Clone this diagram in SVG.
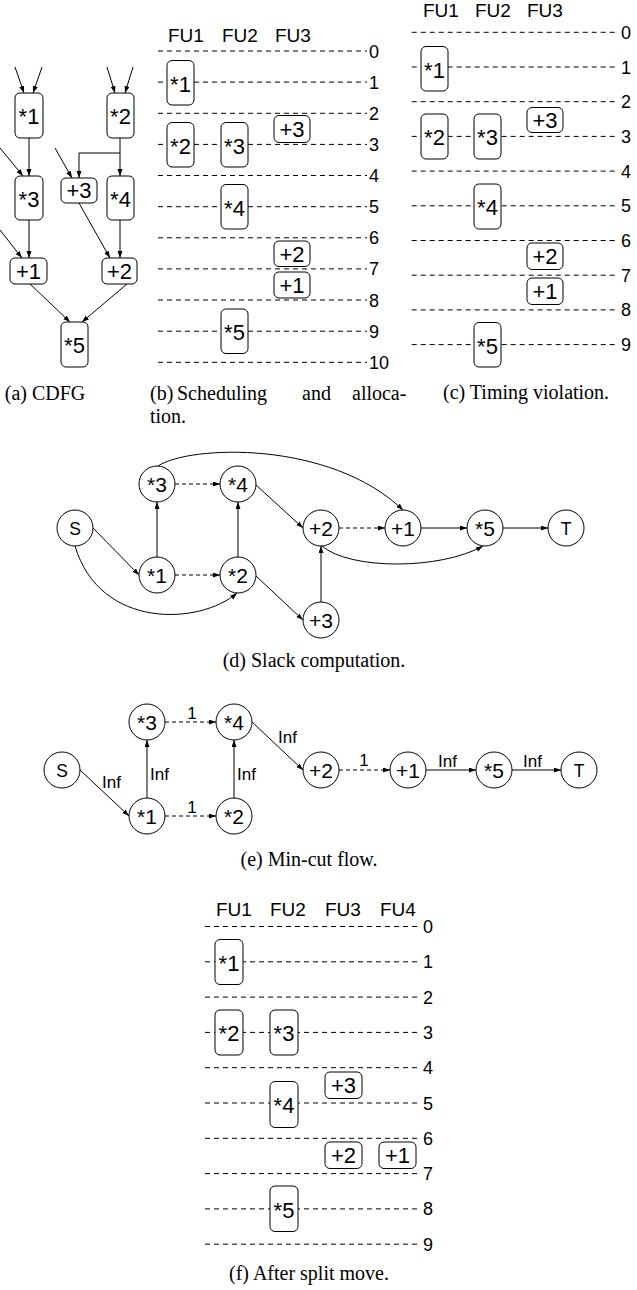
<svg xmlns="http://www.w3.org/2000/svg" width="637" height="1290" viewBox="0 0 637 1290">
<style>
  .box{fill:#fff;stroke:#000;stroke-width:1}
  .nd{fill:#fff;stroke:#000;stroke-width:1}
  .lbl{font-family:"Liberation Sans",Arial,sans-serif;font-size:22px;text-anchor:middle;fill:#000}
  .clbl{font-family:"Liberation Sans",Arial,sans-serif;font-size:21px;text-anchor:middle;fill:#000}
  .st{font-family:"Liberation Sans",Arial,sans-serif;font-size:17.5px;text-anchor:middle;fill:#000}
  .hdr{font-family:"Liberation Sans",Arial,sans-serif;font-size:19px;fill:#000}
  .num{font-family:"Liberation Sans",Arial,sans-serif;font-size:18px;fill:#000}
  .el{font-family:"Liberation Sans",Arial,sans-serif;font-size:17px;fill:#000}
  .cap{font-family:"Liberation Serif","Times New Roman",serif;font-size:20px;fill:#000}
  .grid{stroke:#000;stroke-width:1;stroke-dasharray:5 4;fill:none}
  .e{fill:none;stroke:#000;stroke-width:1;marker-end:url(#ah)}
  .d{stroke-dasharray:4 3}
</style>
<defs>
  <marker id="ah" markerUnits="userSpaceOnUse" markerWidth="8" markerHeight="6" refX="7" refY="2.5" orient="auto">
    <path d="M0,0 L7,2.5 L0,5 z" fill="#000"/>
  </marker>
</defs>

<!-- (a) CDFG -->
<g id="cdfg-edges">
  <path class="e" d="M15,67 L24,93"/>
  <path class="e" d="M42,67 L33,93"/>
  <path class="e" d="M107,67 L115,93"/>
  <path class="e" d="M133,67 L125,93"/>
  <path class="e" d="M29,138 V176"/>
  <path class="e" d="M0,148 L23,176"/>
  <path class="e" d="M120,138 V176"/>
  <path class="e" d="M120,153 H79 V178"/>
  <path class="e" d="M55,148 L72,178"/>
  <path class="e" d="M29,220 V258"/>
  <path class="e" d="M0,230 L22,258"/>
  <path class="e" d="M79,203 L110,258"/>
  <path class="e" d="M120,220 V258"/>
  <path class="e" d="M30,284 L70,322"/>
  <path class="e" d="M127,284 L82,322"/>
</g>
<g id="a-m1"><rect class="box" x="15" y="93" width="28" height="45" rx="5"/><text class="lbl" x="29" y="124">*1</text></g>
<g id="a-m2"><rect class="box" x="107" y="93" width="27" height="45" rx="5"/><text class="lbl" x="120.5" y="124">*2</text></g>
<g id="a-m3"><rect class="box" x="15" y="176" width="28" height="44" rx="5"/><text class="lbl" x="29" y="206.5">*3</text></g>
<g id="a-a3"><rect class="box" x="61" y="178" width="36" height="25" rx="5"/><text class="lbl" x="79" y="198">+3</text></g>
<g id="a-m4"><rect class="box" x="107" y="176" width="27" height="44" rx="5"/><text class="lbl" x="120.5" y="206.5">*4</text></g>
<g id="a-a1"><rect class="box" x="10" y="258" width="37" height="26" rx="5"/><text class="lbl" x="28.5" y="278.5">+1</text></g>
<g id="a-a2"><rect class="box" x="102" y="258" width="35" height="26" rx="5"/><text class="lbl" x="119.5" y="278.5">+2</text></g>
<g id="a-m5"><rect class="box" x="61" y="322" width="27" height="45" rx="5"/><text class="lbl" x="74.5" y="353">*5</text></g>
<text class="cap" x="45" y="400" text-anchor="middle">(a) CDFG</text>

<!-- (b) Scheduling and allocation -->
<g id="b-grid">
  <text class="hdr" x="168" y="42">FU1</text>
  <text class="hdr" x="222" y="42">FU2</text>
  <text class="hdr" x="275" y="42">FU3</text>
  <path class="grid" d="M158,51H367 M158,82.1H367 M158,113.3H367 M158,144.4H367 M158,175.5H367 M158,206.7H367 M158,237.8H367 M158,268.9H367 M158,300H367 M158,331.2H367 M158,362.3H367"/>
  <text class="num" x="369" y="57.5">0</text>
  <text class="num" x="369" y="88.6">1</text>
  <text class="num" x="369" y="119.8">2</text>
  <text class="num" x="369" y="150.9">3</text>
  <text class="num" x="369" y="182">4</text>
  <text class="num" x="369" y="213.2">5</text>
  <text class="num" x="369" y="244.3">6</text>
  <text class="num" x="369" y="275.4">7</text>
  <text class="num" x="369" y="306.5">8</text>
  <text class="num" x="369" y="337.7">9</text>
  <text class="num" x="369" y="368.8">10</text>
</g>
<g id="b-m1"><rect class="box" x="167" y="60.5" width="27" height="44.5" rx="5"/><text class="lbl" x="180.5" y="91.5">*1</text></g>
<g id="b-m2"><rect class="box" x="167" y="122.5" width="27" height="44.5" rx="5"/><text class="lbl" x="180.5" y="153.5">*2</text></g>
<g id="b-m3"><rect class="box" x="221" y="122.5" width="27" height="44.5" rx="5"/><text class="lbl" x="234.5" y="153.5">*3</text></g>
<g id="b-a3"><rect class="box" x="274" y="115.5" width="36" height="27" rx="5"/><text class="lbl" x="292" y="136.5">+3</text></g>
<g id="b-m4"><rect class="box" x="221" y="184.5" width="27" height="44.5" rx="5"/><text class="lbl" x="234.5" y="215.5">*4</text></g>
<g id="b-a2"><rect class="box" x="274" y="241" width="36" height="25.5" rx="5"/><text class="lbl" x="292" y="261.5">+2</text></g>
<g id="b-a1"><rect class="box" x="274" y="272" width="36" height="26" rx="5"/><text class="lbl" x="292" y="292.5">+1</text></g>
<g id="b-m5"><rect class="box" x="221" y="309" width="27" height="44.5" rx="5"/><text class="lbl" x="234.5" y="340">*5</text></g>
<text class="cap" x="150" y="400">(b)</text>
<text class="cap" x="177" y="400">Scheduling</text>
<text class="cap" x="302" y="400">and</text>
<text class="cap" x="352" y="400">alloca-</text>
<text class="cap" x="150" y="423">tion.</text>

<!-- (c) Timing violation -->
<g id="c-grid">
  <text class="hdr" x="423" y="17">FU1</text>
  <text class="hdr" x="475" y="17">FU2</text>
  <text class="hdr" x="527" y="17">FU3</text>
  <path class="grid" d="M411.7,32.3H618 M411.7,67H618 M411.7,101.7H618 M411.7,136.4H618 M411.7,171.1H618 M411.7,205.8H618 M411.7,240.5H618 M411.7,275.2H618 M411.7,309.9H618 M411.7,344.6H618"/>
  <text class="num" x="621" y="38.8">0</text>
  <text class="num" x="621" y="73.5">1</text>
  <text class="num" x="621" y="108.2">2</text>
  <text class="num" x="621" y="142.9">3</text>
  <text class="num" x="621" y="177.6">4</text>
  <text class="num" x="621" y="212.3">5</text>
  <text class="num" x="621" y="247">6</text>
  <text class="num" x="621" y="281.7">7</text>
  <text class="num" x="621" y="316.4">8</text>
  <text class="num" x="621" y="351.1">9</text>
</g>
<g id="c-m1"><rect class="box" x="421" y="46.5" width="27" height="44.5" rx="5"/><text class="lbl" x="434.5" y="77.5">*1</text></g>
<g id="c-m2"><rect class="box" x="421" y="114" width="27" height="45" rx="5"/><text class="lbl" x="434.5" y="145">*2</text></g>
<g id="c-m3"><rect class="box" x="474" y="114" width="27" height="45" rx="5"/><text class="lbl" x="487.5" y="145">*3</text></g>
<g id="c-a3"><rect class="box" x="527" y="107.5" width="36" height="25" rx="5"/><text class="lbl" x="545" y="127.5">+3</text></g>
<g id="c-m4"><rect class="box" x="474" y="184" width="27" height="45" rx="5"/><text class="lbl" x="487.5" y="215">*4</text></g>
<g id="c-a2"><rect class="box" x="527" y="243" width="36" height="26.5" rx="5"/><text class="lbl" x="545" y="264">+2</text></g>
<g id="c-a1"><rect class="box" x="527" y="278" width="36" height="26.5" rx="5"/><text class="lbl" x="545" y="299">+1</text></g>
<g id="c-m5"><rect class="box" x="474" y="322.5" width="27" height="44.5" rx="5"/><text class="lbl" x="487.5" y="353.5">*5</text></g>
<text class="cap" x="443" y="399">(c) Timing violation.</text>

<!-- (d) Slack computation -->
<g id="d-edges">
  <path class="e" d="M93,528 L139,575"/>
  <path class="e" d="M75,546 C100,630 200,625 237,593"/>
  <path class="e" d="M157,557 V502"/>
  <path class="e d" d="M175,484 H220"/>
  <path class="e d" d="M175,575 H220"/>
  <path class="e" d="M238,557 V502"/>
  <path class="e" d="M256,485 L303,528"/>
  <path class="e" d="M256,576 L303,620"/>
  <path class="e" d="M321,602 V546"/>
  <path class="e d" d="M339,528 H385"/>
  <path class="e" d="M421,528 H467"/>
  <path class="e" d="M503,528 H548"/>
  <path class="e" d="M322,546 C350,570 440,570 483,546"/>
  <path class="e" d="M158,466 C190,445 330,440 403,510"/>
</g>
<g id="d-S"><circle class="nd" cx="75" cy="528" r="18"/><text class="st" x="75" y="534.5">S</text></g>
<g id="d-m3"><circle class="nd" cx="157" cy="484" r="18"/><text class="clbl" x="157" y="491.5">*3</text></g>
<g id="d-m4"><circle class="nd" cx="238" cy="484" r="18"/><text class="clbl" x="238" y="491.5">*4</text></g>
<g id="d-m1"><circle class="nd" cx="157" cy="575" r="18"/><text class="clbl" x="157" y="582.5">*1</text></g>
<g id="d-m2"><circle class="nd" cx="238" cy="575" r="18"/><text class="clbl" x="238" y="582.5">*2</text></g>
<g id="d-a2"><circle class="nd" cx="321" cy="528" r="18"/><text class="clbl" x="321" y="535.5">+2</text></g>
<g id="d-a3"><circle class="nd" cx="321" cy="620" r="18"/><text class="clbl" x="321" y="627.5">+3</text></g>
<g id="d-a1"><circle class="nd" cx="403" cy="528" r="18"/><text class="clbl" x="403" y="535.5">+1</text></g>
<g id="d-m5"><circle class="nd" cx="485" cy="528" r="18"/><text class="clbl" x="485" y="535.5">*5</text></g>
<g id="d-T"><circle class="nd" cx="566" cy="528" r="18"/><text class="st" x="566" y="534.5">T</text></g>
<text class="cap" x="314" y="667" text-anchor="middle">(d) Slack computation.</text>

<!-- (e) Min-cut flow -->
<g id="e-edges">
  <path class="e" d="M80,770 L129,816"/>
  <path class="e" d="M147,798 V740"/>
  <path class="e" d="M234,798 V740"/>
  <path class="e d" d="M165,816 H216"/>
  <path class="e d" d="M165,722 H216"/>
  <path class="e" d="M252,722 L303,770"/>
  <path class="e d" d="M339,770 H390"/>
  <path class="e" d="M426,770 H476"/>
  <path class="e" d="M512,770 H561"/>
  <text class="el" x="102" y="788">Inf</text>
  <text class="el" x="150" y="780">Inf</text>
  <text class="el" x="237" y="780">Inf</text>
  <text class="el" x="192" y="813" text-anchor="middle">1</text>
  <text class="el" x="192" y="719" text-anchor="middle">1</text>
  <text class="el" x="278" y="743">Inf</text>
  <text class="el" x="364" y="766" text-anchor="middle">1</text>
  <text class="el" x="438" y="767">Inf</text>
  <text class="el" x="523" y="767">Inf</text>
</g>
<g id="e-S"><circle class="nd" cx="62" cy="770" r="18"/><text class="st" x="62" y="776.5">S</text></g>
<g id="e-m3"><circle class="nd" cx="147" cy="722" r="18"/><text class="clbl" x="147" y="729.5">*3</text></g>
<g id="e-m4"><circle class="nd" cx="234" cy="722" r="18"/><text class="clbl" x="234" y="729.5">*4</text></g>
<g id="e-m1"><circle class="nd" cx="147" cy="816" r="18"/><text class="clbl" x="147" y="823.5">*1</text></g>
<g id="e-m2"><circle class="nd" cx="234" cy="816" r="18"/><text class="clbl" x="234" y="823.5">*2</text></g>
<g id="e-a2"><circle class="nd" cx="321" cy="770" r="18"/><text class="clbl" x="321" y="777.5">+2</text></g>
<g id="e-a1"><circle class="nd" cx="408" cy="770" r="18"/><text class="clbl" x="408" y="777.5">+1</text></g>
<g id="e-m5"><circle class="nd" cx="494" cy="770" r="18"/><text class="clbl" x="494" y="777.5">*5</text></g>
<g id="e-T"><circle class="nd" cx="579" cy="770" r="18"/><text class="st" x="579" y="776.5">T</text></g>
<text class="cap" x="309" y="866" text-anchor="middle">(e) Min-cut flow.</text>

<!-- (f) After split move -->
<g id="f-grid">
  <text class="hdr" x="216" y="916">FU1</text>
  <text class="hdr" x="270" y="916">FU2</text>
  <text class="hdr" x="325" y="916">FU3</text>
  <text class="hdr" x="380" y="916">FU4</text>
  <path class="grid" d="M205,926.5H420 M205,961.8H420 M205,997.1H420 M205,1032.4H420 M205,1067.7H420 M205,1103H420 M205,1138.3H420 M205,1173.6H420 M205,1208.9H420 M205,1244.2H420"/>
  <text class="num" x="423" y="933">0</text>
  <text class="num" x="423" y="968.3">1</text>
  <text class="num" x="423" y="1003.6">2</text>
  <text class="num" x="423" y="1038.9">3</text>
  <text class="num" x="423" y="1074.2">4</text>
  <text class="num" x="423" y="1109.5">5</text>
  <text class="num" x="423" y="1144.8">6</text>
  <text class="num" x="423" y="1180.1">7</text>
  <text class="num" x="423" y="1215.4">8</text>
  <text class="num" x="423" y="1250.7">9</text>
</g>
<g id="f-m1"><rect class="box" x="215" y="939.5" width="28" height="45" rx="5"/><text class="lbl" x="229" y="970.5">*1</text></g>
<g id="f-m2"><rect class="box" x="215" y="1010" width="28" height="45" rx="5"/><text class="lbl" x="229" y="1041">*2</text></g>
<g id="f-m3"><rect class="box" x="270" y="1010" width="28" height="45" rx="5"/><text class="lbl" x="284" y="1041">*3</text></g>
<g id="f-a3"><rect class="box" x="325" y="1072" width="37" height="26.5" rx="5"/><text class="lbl" x="343.5" y="1093">+3</text></g>
<g id="f-m4"><rect class="box" x="270" y="1081.5" width="28" height="46" rx="5"/><text class="lbl" x="284" y="1113">*4</text></g>
<g id="f-a2"><rect class="box" x="325" y="1142" width="37" height="26.5" rx="5"/><text class="lbl" x="343.5" y="1163">+2</text></g>
<g id="f-a1"><rect class="box" x="379" y="1142" width="37" height="26.5" rx="5"/><text class="lbl" x="397.5" y="1163">+1</text></g>
<g id="f-m5"><rect class="box" x="270" y="1186" width="28" height="45.5" rx="5"/><text class="lbl" x="284" y="1217.5">*5</text></g>
<text class="cap" x="309" y="1280" text-anchor="middle">(f) After split move.</text>
</svg>
